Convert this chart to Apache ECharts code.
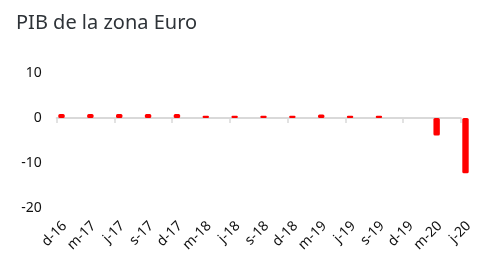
<!DOCTYPE html>
<html>
<head>
<meta charset="utf-8">
<script src="https://cdn.jsdelivr.net/npm/echarts@6/dist/echarts.min.js"></script>
<style>
html,body{margin:0;padding:0;background:#fff;}
#chart{width:503px;height:269px;}
</style>
</head>
<body>
<div id="chart"></div>
<script>
var categories = ['d-16','m-17','j-17','s-17','d-17','m-18','j-18','s-18','d-18','m-19','j-19','s-19','d-19','m-20','j-20'];
var pibValues = [0.9, 0.9, 0.9, 0.9, 0.9, 0.5, 0.5, 0.5, 0.5, 0.8, 0.5, 0.5, 0, -3.9, -12.3];
var spacerValues = [null,null,null,null,null,null,null,null,null,null,null,null,null,null,null];
var yTicks = [-20, -10, 0, 10];

var chart = echarts.init(document.getElementById('chart'), null, {renderer:'canvas'});
var font = '"Noto Sans", "Open Sans", sans-serif';
var gL = 56.7, gR = 42.3, gT = 73.3, gB = 61.3, dx = 8;
chart.setOption({
  animation: false,
  title: {
    text: 'PIB de la zona Euro',
    left: 11, top: 8,
    textStyle: {fontFamily: font, fontSize: 20, fontWeight: 'normal', color: '#2e3338'}
  },
  grid: [
    {left: gL, right: gR, top: gT, bottom: gB, containLabel: false},
    {left: gL + dx, right: gR - dx, top: gT, bottom: gB, containLabel: false}
  ],
  xAxis: [
    {
      type: 'category', gridIndex: 0, data: categories, boundaryGap: false,
      axisLine: {onZero: true, lineStyle: {color: '#d9d9d9', width: 2}},
      axisTick: {show: true, length: 5, lineStyle: {color: '#d9d9d9', width: 1.5}},
      axisLabel: {show: false},
      splitLine: {show: false}
    },
    {
      type: 'category', gridIndex: 1, data: categories, boundaryGap: false, position: 'bottom',
      axisLine: {show: false, onZero: false},
      axisTick: {show: false},
      axisLabel: {show: true, rotate: 45, margin: 16, interval: 0, fontFamily: font, fontSize: 14, color: '#111'},
      splitLine: {show: false}
    }
  ],
  yAxis: [
    {
      type: 'value', gridIndex: 0, min: yTicks[0], max: yTicks[yTicks.length-1], interval: 10,
      axisLine: {show: false}, axisTick: {show: false},
      splitLine: {show: false},
      axisLabel: {margin: 15, fontFamily: font, fontSize: 14, color: '#111'}
    },
    {
      type: 'value', gridIndex: 1, min: yTicks[0], max: yTicks[yTicks.length-1], interval: 10,
      show: false
    }
  ],
  series: [
    {
      type: 'bar', xAxisIndex: 0, yAxisIndex: 0, data: spacerValues,
      barWidth: 6.4, barGap: '50%', silent: true
    },
    {
      type: 'bar', xAxisIndex: 0, yAxisIndex: 0, data: pibValues,
      barWidth: 6.4, barGap: '50%', clip: false,
      itemStyle: {color: '#ff0000', borderRadius: 1.5}
    }
  ]
});
</script>
</body>
</html>
